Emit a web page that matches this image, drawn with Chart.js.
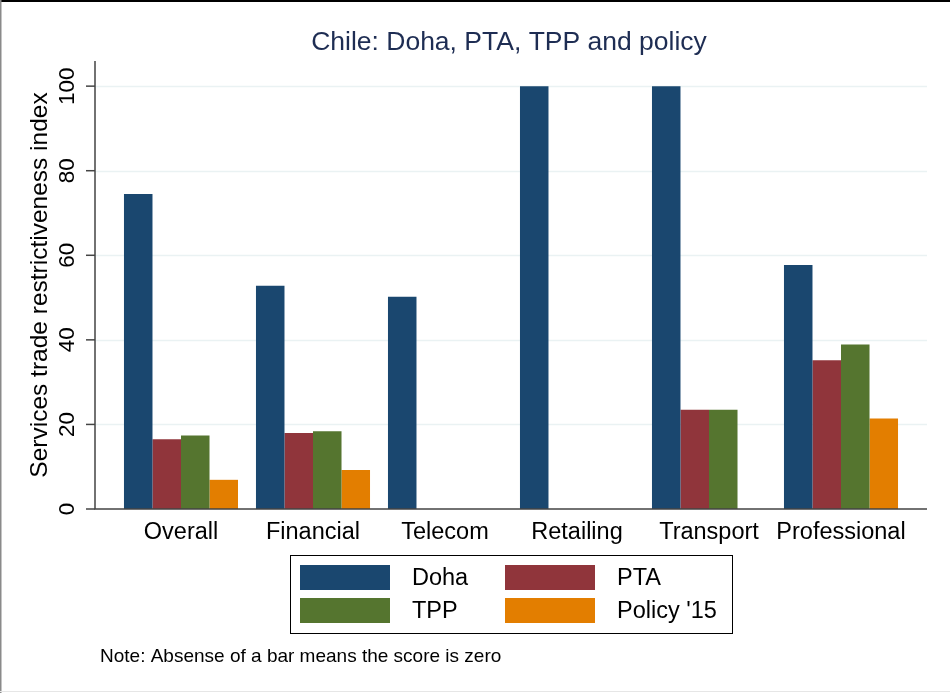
<!DOCTYPE html>
<html lang="en">

<head>
    <meta charset="UTF-8">
    <title>Chile: Doha, PTA, TPP and policy</title>
    <style>
        body {
            margin: 0;
            background: #fff;
        }

        canvas {
            display: block;
        }
    </style>
    <script src="https://cdn.jsdelivr.net/npm/chart.js"></script>
</head>

<body>
    <canvas id="chart" width="950" height="693"></canvas>

    <script>
        // data
        const sectors = ['Overall', 'Financial', 'Telecom', 'Retailing', 'Transport', 'Professional'];
        const doha = [74.5, 52.8, 50.2, 100, 100, 57.7];
        const pta = [16.5, 18.0, 0, 0, 23.5, 35.2];
        const tpp = [17.4, 18.4, 0, 0, 23.5, 38.9];
        const policy15 = [6.9, 9.2, 0, 0, 0, 21.4];
        const yTicks = [0, 20, 40, 60, 80, 100];

        const seriesNames = ['Doha', 'PTA', 'TPP', "Policy '15"];
        const seriesColors = ['#1a476f', '#90353b', '#55752f', '#e37e00'];

        const titleText = 'Chile: Doha, PTA, TPP and policy';
        const yTitle = 'Services trade restrictiveness index';
        const noteText = 'Note: Absense of a bar means the score is zero';

        const FONT = '"Liberation Sans", Arial, sans-serif';
        const PAD = 20; // plot region sticks out past the outer categories

        // draws the Stata-like frame, axes, labels, legend and note
        const stataLook = {
            id: 'stataLook',
            beforeDraw(chart) {
                const ctx = chart.ctx;
                const area = chart.chartArea;
                const y = chart.scales.y;
                ctx.save();
                ctx.fillStyle = '#fff';
                ctx.fillRect(0, 0, chart.width, chart.height);

                // outer frame
                ctx.fillStyle = '#000';
                ctx.fillRect(0, 0, chart.width, 2);
                ctx.fillStyle = '#8a8a8a';
                ctx.fillRect(0, 0, 1.5, chart.height);
                ctx.fillStyle = '#e6e6e6';
                ctx.fillRect(0, chart.height - 2, chart.width, 1);

                // grid lines
                ctx.strokeStyle = '#eaf2f3';
                ctx.lineWidth = 1.5;
                yTicks.forEach(t => {
                    if (t === 0) return;
                    const py = Math.round(y.getPixelForValue(t)) + 0.5;
                    ctx.beginPath();
                    ctx.moveTo(area.left - PAD, py);
                    ctx.lineTo(area.right + PAD, py);
                    ctx.stroke();
                });
                ctx.restore();
            },
            afterDatasetsDraw(chart) {
                const ctx = chart.ctx;
                const area = chart.chartArea;
                const x = chart.scales.x;
                const y = chart.scales.y;
                const axisX = area.left - PAD;
                const baseY = y.getPixelForValue(0);

                ctx.save();
                // axes
                ctx.strokeStyle = '#444';
                ctx.lineWidth = 1.5;
                ctx.beginPath();
                ctx.moveTo(axisX, area.top - 4);
                ctx.lineTo(axisX, baseY);
                ctx.lineTo(area.right + PAD, baseY);
                ctx.stroke();

                // y ticks + rotated labels
                ctx.fillStyle = '#000';
                ctx.font = '22.5px ' + FONT;
                ctx.textAlign = 'center';
                ctx.textBaseline = 'alphabetic';
                yTicks.forEach(t => {
                    const py = y.getPixelForValue(t);
                    ctx.beginPath();
                    ctx.moveTo(axisX - 9, py);
                    ctx.lineTo(axisX, py);
                    ctx.stroke();
                    ctx.save();
                    ctx.translate(74, py);
                    ctx.rotate(-Math.PI / 2);
                    ctx.fillText(String(t), 0, 0);
                    ctx.restore();
                });

                // y title
                ctx.save();
                ctx.font = '24.5px ' + FONT;
                ctx.translate(47, (area.top + baseY) / 2 - 2);
                ctx.rotate(-Math.PI / 2);
                ctx.fillText(yTitle, 0, 0);
                ctx.restore();

                // category labels
                ctx.font = '23.5px ' + FONT;
                sectors.forEach((s, i) => {
                    ctx.fillText(s, x.getPixelForValue(i), 539);
                });

                // title
                ctx.fillStyle = '#1e2d53';
                ctx.font = '26.5px ' + FONT;
                ctx.fillText(titleText, 509, 50);

                // legend box
                ctx.strokeStyle = '#000';
                ctx.lineWidth = 1;
                ctx.strokeRect(290.5, 555.5, 442, 78);
                ctx.font = '23.5px ' + FONT;
                ctx.textAlign = 'left';
                ctx.textBaseline = 'middle';
                chart.data.datasets.forEach((ds, i) => {
                    const col = i % 2;
                    const row = Math.floor(i / 2);
                    const sx = 300 + col * 205;
                    const sy = 565 + row * 33;
                    ctx.fillStyle = ds.backgroundColor;
                    ctx.fillRect(sx, sy, 90, 25);
                    ctx.fillStyle = '#000';
                    ctx.fillText(ds.label, sx + 112, sy + 14);
                });

                // note
                ctx.font = '19px ' + FONT;
                ctx.textBaseline = 'alphabetic';
                ctx.fillText(noteText, 100, 662);
                ctx.restore();
            }
        };

        const seriesValues = [doha, pta, tpp, policy15];

        new Chart(document.getElementById('chart'), {
            type: 'bar',
            data: {
                labels: sectors,
                datasets: seriesValues.map((vals, i) => ({
                    label: seriesNames[i],
                    data: vals,
                    backgroundColor: seriesColors[i],
                    borderWidth: 0,
                    categoryPercentage: 0.864,
                    barPercentage: 1.0
                }))
            },
            options: {
                responsive: false,
                animation: false,
                devicePixelRatio: 1,
                layout: {
                    padding: { top: 65, bottom: 184, left: 115, right: 43 }
                },
                scales: {
                    x: { display: false },
                    y: { display: false, min: 0, max: 105 }
                },
                plugins: {
                    legend: { display: false },
                    title: { display: false },
                    tooltip: { enabled: false }
                }
            },
            plugins: [stataLook]
        });
    </script>
</body>

</html>
